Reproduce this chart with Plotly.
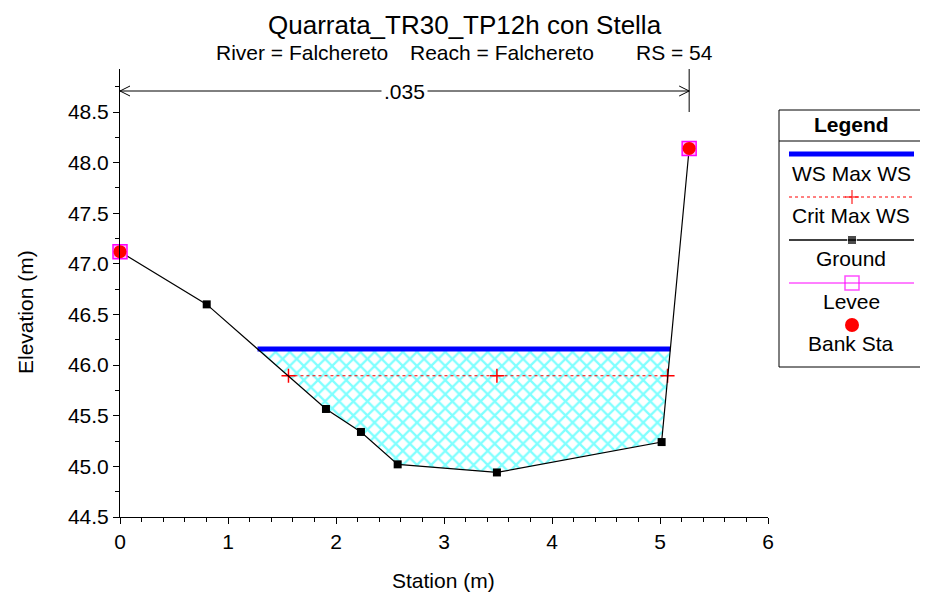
import plotly.graph_objects as go

# ---------------- data ----------------
ground_station = [0.0, 0.803, 1.907, 2.231, 2.571, 3.49, 5.015, 5.27]
ground_elev = [47.12, 46.60, 45.567, 45.34, 45.02, 44.94, 45.24, 48.14]
ws_elev = 46.16
crit_elev = 45.895
crit_station = [1.56, 3.49, 5.07]
levee_station = [0.0, 5.27]
levee_elev = [47.12, 48.14]
bank_station = [0.0, 5.27]
bank_elev = [47.12, 48.14]
manning_n = ".035"
x_ticks = [0, 1, 2, 3, 4, 5, 6]
y_ticks = [44.5, 45.0, 45.5, 46.0, 46.5, 47.0, 47.5, 48.0, 48.5]
title = "Quarrata_TR30_TP12h con Stella"
sub_parts = ["River = Falchereto", "Reach = Falchereto", "RS = 54"]
legend_names = ["WS Max WS", "Crit Max WS", "Ground", "Levee", "Bank Sta"]

# page body has an 8px margin: size the figure so it fills the window
OFF = 8
W, H = 928 - OFF, 598 - OFF
FONT = "Liberation Sans, Arial, Helvetica, sans-serif"
FS = 21


def px(x):
    return (x - OFF) / W


def py(y):
    return (H - (y - OFF)) / H


# water surface intersections with ground
def intersect(level):
    xs = []
    for i in range(len(ground_station) - 1):
        x0, x1 = ground_station[i], ground_station[i + 1]
        y0, y1 = ground_elev[i], ground_elev[i + 1]
        if (y0 - level) * (y1 - level) < 0:
            t = (level - y0) / (y1 - y0)
            xs.append(x0 + t * (x1 - x0))
    return xs[0], xs[-1]


ws_l, ws_r = intersect(ws_elev)
poly_x = [ws_l] + [s for s in ground_station if ws_l < s < ws_r] + [ws_r, ws_l]
poly_y = [ws_elev] + [e for s, e in zip(ground_station, ground_elev) if ws_l < s < ws_r] + [ws_elev, ws_elev]

fig = go.Figure()

# fill
fig.add_trace(go.Scatter(
    x=poly_x, y=poly_y, mode="lines", fill="toself",
    line=dict(width=0, color="rgba(0,0,0,0)"),
    fillcolor="white",
    fillpattern=dict(shape="x", fgcolor="#00FFFF", bgcolor="white", size=10, solidity=0.4),
    hoverinfo="skip", showlegend=False))

# crit
fig.add_trace(go.Scatter(
    x=crit_station, y=[crit_elev] * len(crit_station), mode="lines+markers",
    line=dict(color="red", width=1, dash="dot"),
    marker=dict(symbol="cross-thin", size=10, line=dict(color="red", width=1.5)),
    showlegend=False))

# water surface
fig.add_trace(go.Scatter(
    x=[ws_l, ws_r], y=[ws_elev, ws_elev], mode="lines",
    line=dict(color="#0000FF", width=5), showlegend=False))

# ground
fig.add_trace(go.Scatter(
    x=ground_station, y=ground_elev, mode="lines+markers",
    line=dict(color="black", width=1.2),
    marker=dict(symbol="square", size=8, color="black"),
    cliponaxis=False, showlegend=False))

# levee
fig.add_trace(go.Scatter(
    x=levee_station, y=levee_elev, mode="markers",
    marker=dict(symbol="square", size=14, color="#FFB0FF", line=dict(color="#FF00FF", width=1.5)),
    cliponaxis=False, showlegend=False))

# bank sta
fig.add_trace(go.Scatter(
    x=bank_station, y=bank_elev, mode="markers",
    marker=dict(symbol="circle", size=13, color="red"),
    cliponaxis=False, showlegend=False))

# ---------------- legend (manual) ----------------
lx0, lx1, lcx = 789, 914, 852
leg_y = [154, 197, 240, 283, 325]
fig.add_trace(go.Scatter(x=[lx0, lx1], y=[leg_y[0]] * 2, mode="lines",
                         line=dict(color="#0000FF", width=5), xaxis="x2", yaxis="y2", showlegend=False))
fig.add_trace(go.Scatter(x=[lx0, lcx, lx1], y=[leg_y[1]] * 3, mode="lines+markers",
                         line=dict(color="red", width=1, dash="dot"),
                         marker=dict(symbol="cross-thin", size=[0, 10, 0], line=dict(color="red", width=1.5)),
                         xaxis="x2", yaxis="y2", showlegend=False))
fig.add_trace(go.Scatter(x=[lx0, lcx, lx1], y=[leg_y[2]] * 3, mode="lines+markers",
                         line=dict(color="black", width=1.5),
                         marker=dict(symbol="square", size=[0, 9, 0], color="black"),
                         xaxis="x2", yaxis="y2", showlegend=False))
fig.add_trace(go.Scatter(x=[lx0, lcx, lx1], y=[leg_y[3]] * 3, mode="lines+markers",
                         line=dict(color="#FF00FF", width=1),
                         marker=dict(symbol="square-open", size=[0, 14, 0], color="#FF00FF", line=dict(width=1.5)),
                         xaxis="x2", yaxis="y2", showlegend=False))
fig.add_trace(go.Scatter(x=[lcx], y=[leg_y[4]], mode="markers",
                         marker=dict(symbol="circle", size=14, color="red"),
                         xaxis="x2", yaxis="y2", showlegend=False))

shapes = []
# legend box
shapes.append(dict(type="rect", xref="paper", yref="paper", x0=px(779), x1=px(922), y0=py(367), y1=py(110),
                   line=dict(color="black", width=1), fillcolor="rgba(0,0,0,0)"))
shapes.append(dict(type="line", xref="paper", yref="paper", x0=px(779), x1=px(922), y0=py(141), y1=py(141),
                   line=dict(color="black", width=1)))

# bracket for manning's n
by = py(91)
b0, b1 = bank_station[0], bank_station[1]
shapes.append(dict(type="line", xref="x", yref="paper", x0=b0, x1=b1, y0=by, y1=by,
                   line=dict(color="black", width=1)))
shapes.append(dict(type="line", xref="x", yref="paper", x0=b1, x1=b1, y0=py(69), y1=py(112),
                   line=dict(color="black", width=1)))
ax_w = 10 / 108.0
ah = 5 / H
shapes.append(dict(type="path", xref="x", yref="paper",
                   path=f"M {b0 + ax_w},{by + ah} L {b0},{by} L {b0 + ax_w},{by - ah}",
                   line=dict(color="black", width=1)))
shapes.append(dict(type="path", xref="x", yref="paper",
                   path=f"M {b1 - ax_w},{by + ah} L {b1},{by} L {b1 - ax_w},{by - ah}",
                   line=dict(color="black", width=1)))


def A(text, x, y, size=FS, xanchor="center", yanchor="middle", **kw):
    d = dict(text=text, x=x, y=y, xref="paper", yref="paper", showarrow=False,
             xanchor=xanchor, yanchor=yanchor, font=dict(size=size, color="black"))
    d.update(kw)
    return d


ann = []
ann.append(dict(text=manning_n, x=(b0 + b1) / 2, y=by, xref="x", yref="paper", showarrow=False,
                xanchor="center", yanchor="middle",
                font=dict(size=FS, color="black"), bgcolor="white", borderpad=2))
ann.append(A(title, px(465), py(8.5), size=26, yanchor="top", borderpad=0))
for t, xs in zip(sub_parts, [214, 408, 634]):
    ann.append(A(t, px(xs), py(52), size=FS, xanchor="left"))
ann.append(A("Station (m)", px(443), py(580)))
ann.append(A("Elevation (m)", px(25), py(312), textangle=-90))
ann.append(A("<b>Legend</b>", px(851), py(125)))
for name, yy in zip(legend_names, [173, 215, 259, 301, 343]):
    ann.append(A(name, px(851), py(yy)))

y_top = 44.5 + (517 - 69) / 101.25

fig.update_layout(
    width=W, height=H,
    margin=dict(l=0, r=0, t=0, b=0, pad=0, autoexpand=False),
    paper_bgcolor="white", plot_bgcolor="white",
    font=dict(family=FONT, color="black"),
    shapes=shapes, annotations=ann,
    showlegend=False,
    xaxis=dict(domain=[px(120), px(768)], range=[0, 6], tickvals=x_ticks,
               ticktext=[str(v) for v in x_ticks], automargin=False,
               showline=True, linecolor="black", linewidth=1, showgrid=False, zeroline=False,
               ticks="outside", ticklen=6, tickcolor="black", tickfont=dict(size=FS),
               minor=dict(dtick=0.2, ticks="outside", ticklen=4, tickcolor="black", showgrid=False)),
    yaxis=dict(domain=[py(517), py(69)], range=[44.5, y_top], tickvals=y_ticks,
               ticktext=[f"{v:.1f}" for v in y_ticks], automargin=False,
               showline=True, linecolor="black", linewidth=1, showgrid=False, zeroline=False,
               ticks="outside", ticklen=6, tickcolor="black", tickfont=dict(size=FS),
               minor=dict(dtick=0.25, tick0=44.5, ticks="outside", ticklen=4, tickcolor="black", showgrid=False)),
    xaxis2=dict(domain=[px(779), px(922)], range=[779, 922], visible=False, anchor="y2", automargin=False),
    yaxis2=dict(domain=[py(367), py(110)], range=[367, 110], visible=False, anchor="x2", automargin=False),
)

fig.write_html("out.html")
